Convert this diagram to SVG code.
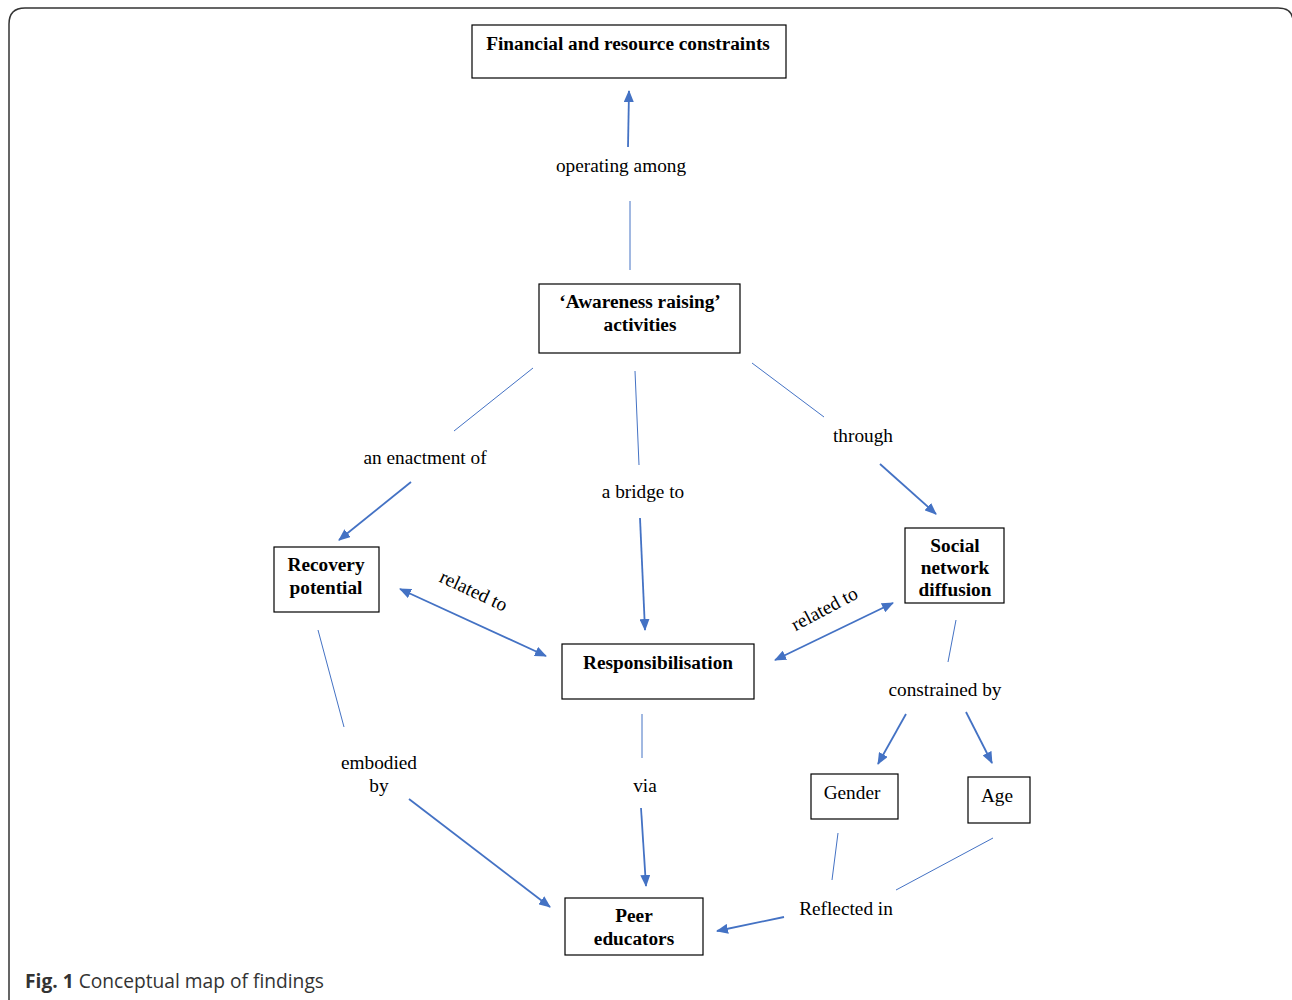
<svg xmlns="http://www.w3.org/2000/svg" width="1292" height="1000" viewBox="0 0 1292 1000">
<style>
.box{fill:#fff;stroke:#000;stroke-width:1.2}
.bt{font-family:"Liberation Serif",serif;font-weight:bold;font-size:19.3px;text-anchor:middle;fill:#000}
.nt{font-family:"Liberation Serif",serif;font-size:19.3px;text-anchor:middle;fill:#000}
.thin{stroke:#4472C4;stroke-width:1;fill:none}
.arr{stroke:#4472C4;stroke-width:1.8;fill:none;marker-end:url(#ah)}
.dbl{stroke:#4472C4;stroke-width:1.8;fill:none;marker-end:url(#ah);marker-start:url(#ahs)}
</style>
<defs>
<marker id="ah" markerUnits="userSpaceOnUse" markerWidth="12" markerHeight="10" refX="11" refY="5" orient="auto"><path d="M0,0 L12,5 L0,10 Z" fill="#4472C4"/></marker>
<marker id="ahs" markerUnits="userSpaceOnUse" markerWidth="12" markerHeight="10" refX="1" refY="5" orient="auto"><path d="M12,0 L0,5 L12,10 Z" fill="#4472C4"/></marker>
</defs>
<rect width="1292" height="1000" fill="#fff"/>
<path d="M9,1000 L9,24 Q9,8 25,8 L1278,8 Q1292,8 1293,20" fill="none" stroke="#333" stroke-width="1.5"/>
<g id="connectors">
<line class="thin" x1="630" y1="270" x2="630" y2="201"/>
<line class="arr" x1="628" y1="147" x2="629" y2="91"/>
<text class="nt" x="621" y="172">operating among</text>
<line class="thin" x1="533" y1="368" x2="454" y2="431"/>
<text class="nt" x="425" y="464">an enactment of</text>
<line class="arr" x1="411" y1="482" x2="339" y2="540"/>
<line class="thin" x1="635" y1="371" x2="639" y2="465"/>
<text class="nt" x="643" y="498">a bridge to</text>
<line class="arr" x1="640" y1="518" x2="645" y2="630"/>
<line class="thin" x1="752" y1="363" x2="824" y2="417"/>
<text class="nt" x="863" y="442">through</text>
<line class="arr" x1="880" y1="464" x2="936" y2="514"/>
<line class="dbl" x1="400" y1="589" x2="546" y2="656"/>
<text class="nt" x="473" y="597" transform="rotate(25 473 592)">related to</text>
<line class="dbl" x1="775" y1="660" x2="893" y2="603"/>
<text class="nt" x="825" y="615" transform="rotate(-28 825 610)">related to</text>
<line class="thin" x1="318" y1="630" x2="344" y2="727"/>
<text class="nt" x="379" y="769">embodied</text>
<text class="nt" x="379" y="792">by</text>
<line class="arr" x1="409" y1="799" x2="550" y2="907"/>
<line class="thin" x1="642" y1="714" x2="642" y2="758"/>
<text class="nt" x="645" y="792">via</text>
<line class="arr" x1="641" y1="808" x2="646" y2="886"/>
<line class="thin" x1="956" y1="620" x2="948" y2="662"/>
<text class="nt" x="945" y="696">constrained by</text>
<line class="arr" x1="906" y1="714" x2="878" y2="764"/>
<line class="arr" x1="966" y1="712" x2="992" y2="763"/>
<line class="thin" x1="838" y1="833" x2="832" y2="880"/>
<line class="thin" x1="993" y1="838" x2="896" y2="890"/>
<text class="nt" x="846" y="915">Reflected in</text>
<line class="arr" x1="784" y1="917" x2="717" y2="931"/>
</g>
<g id="financial"><rect class="box" x="472" y="25" width="314" height="53"/><text class="bt" x="628" y="50">Financial and resource constraints</text></g>
<g id="awareness"><rect class="box" x="539" y="284" width="201" height="69"/><text class="bt" x="640" y="308">‘Awareness raising’</text><text class="bt" x="640" y="331">activities</text></g>
<g id="recovery"><rect class="box" x="274" y="547" width="105" height="65"/><text class="bt" x="326" y="571">Recovery</text><text class="bt" x="326" y="594">potential</text></g>
<g id="responsibilisation"><rect class="box" x="562" y="644" width="192" height="55"/><text class="bt" x="658" y="669">Responsibilisation</text></g>
<g id="social"><rect class="box" x="905" y="528" width="99" height="75"/><text class="bt" x="955" y="552">Social</text><text class="bt" x="955" y="574">network</text><text class="bt" x="955" y="596">diffusion</text></g>
<g id="gender"><rect class="box" x="811" y="774" width="87" height="45"/><text class="nt" x="852" y="799">Gender</text></g>
<g id="age"><rect class="box" x="968" y="777" width="62" height="46"/><text class="nt" x="997" y="802">Age</text></g>
<g id="peer"><rect class="box" x="565" y="898" width="138" height="57"/><text class="bt" x="634" y="922">Peer</text><text class="bt" x="634" y="945">educators</text></g>
<text x="25" y="988" font-family="'Open Sans',sans-serif" font-size="19.2" fill="#333"><tspan font-weight="bold">Fig. 1</tspan> Conceptual map of findings</text>
</svg>
